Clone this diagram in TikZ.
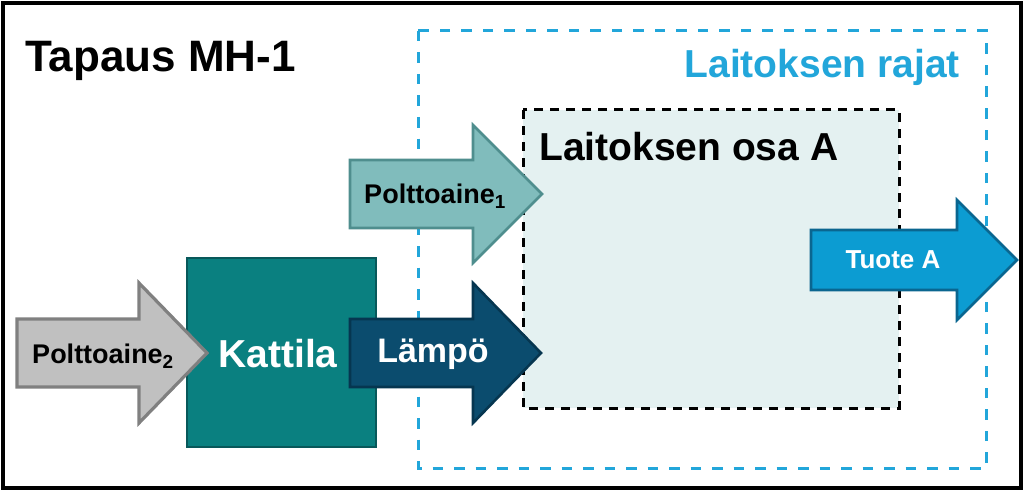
\documentclass[tikz,border=0pt]{standalone}
\usepackage{fontspec}
\setmainfont{Liberation Sans}
\usepackage{tikz}
\usetikzlibrary{positioning}

\definecolor{kattilateal}{HTML}{0A8080}
\definecolor{kattilaedge}{HTML}{08585A}
\definecolor{fuelone}{HTML}{80BCBC}
\definecolor{fueloneedge}{HTML}{4F8E8E}
\definecolor{fueltwo}{HTML}{C0C0C0}
\definecolor{fueltwoedge}{HTML}{808080}
\definecolor{heatblue}{HTML}{0B4C6E}
\definecolor{heatedge}{HTML}{063650}
\definecolor{productblue}{HTML}{0C9CD2}
\definecolor{productedge}{HTML}{0A6690}
\definecolor{limitblue}{HTML}{22A6DA}
\definecolor{partfill}{HTML}{E4F1F1}

% block arrow: style, body left, head base, tip, centre y, body half, head half
\newcommand{\flowarrow}[7]{%
  \draw[#1] (#2,#5-#6) -- (#3,#5-#6) -- (#3,#5-#7) -- (#4,#5)
    -- (#3,#5+#7) -- (#3,#5+#6) -- (#2,#5+#6) -- cycle;}

\tikzset{
  bigtext/.style={font=\bfseries\fontsize{39}{39}\selectfont, inner sep=0pt},
  arrowtext/.style={font=\bfseries\fontsize{27}{27}\selectfont, inner sep=0pt},
  arrowline/.style={line width=2.6pt, line join=miter},
}

\begin{document}
\begin{tikzpicture}[x=1pt, y=-1pt]
        \useasboundingbox (0,0) rectangle (1024,492);

        % Frame
        \draw[line width=4pt] (3,3) rectangle (1021,488);
        \node[bigtext, font=\bfseries\fontsize{44}{44}\selectfont, anchor=base west] (title) at (25,72) {Tapaus MH-1};

        % Plant limits
        \draw[limitblue, line width=3pt, dash pattern=on 10.5pt off 11pt] (418,31) rectangle (986,468);
        \node[bigtext, text=limitblue, anchor=base east] (limits) at (960,78) {Laitoksen rajat};

        % Plant part A
        \draw[fill=partfill, line width=3pt, dash pattern=on 9pt off 7pt] (523,110) rectangle (899,408);
        \node[bigtext, anchor=base west] (partA) at (539,160) {Laitoksen osa A};

        % Boiler
        \draw[kattilaedge, fill=kattilateal, line width=1.2pt] (187,258) rectangle (376,447);
        \node[bigtext, text=white] (kattila) at (278,354) {Kattila};

        % Fuel 2
        \flowarrow{arrowline, draw=fueltwoedge, fill=fueltwo, line width=3.2pt}{17}{139}{207}{353}{34}{70}
        \node[arrowtext] (fuel2) at (103,356) {Polttoaine\textsubscript{2}};

        % Heat
        \flowarrow{arrowline, draw=heatedge, fill=heatblue}{350}{473}{541}{353}{34}{70}
        \node[bigtext, font=\bfseries\fontsize{34}{34}\selectfont, text=white] (heat) at (433,354) {Lämpö};

        % Fuel 1
        \flowarrow{arrowline, draw=fueloneedge, fill=fuelone}{350}{473}{542}{194}{34}{69}
        \node[arrowtext] (fuel1) at (435,196) {Polttoaine\textsubscript{1}};

        % Product A
        \flowarrow{arrowline, draw=productedge, fill=productblue}{811}{957}{1017}{260}{30}{60}
        \node[arrowtext, font=\bfseries\fontsize{26}{26}\selectfont, text=white] (product) at (893,260) {Tuote A};
    \end{tikzpicture}
\end{document}
